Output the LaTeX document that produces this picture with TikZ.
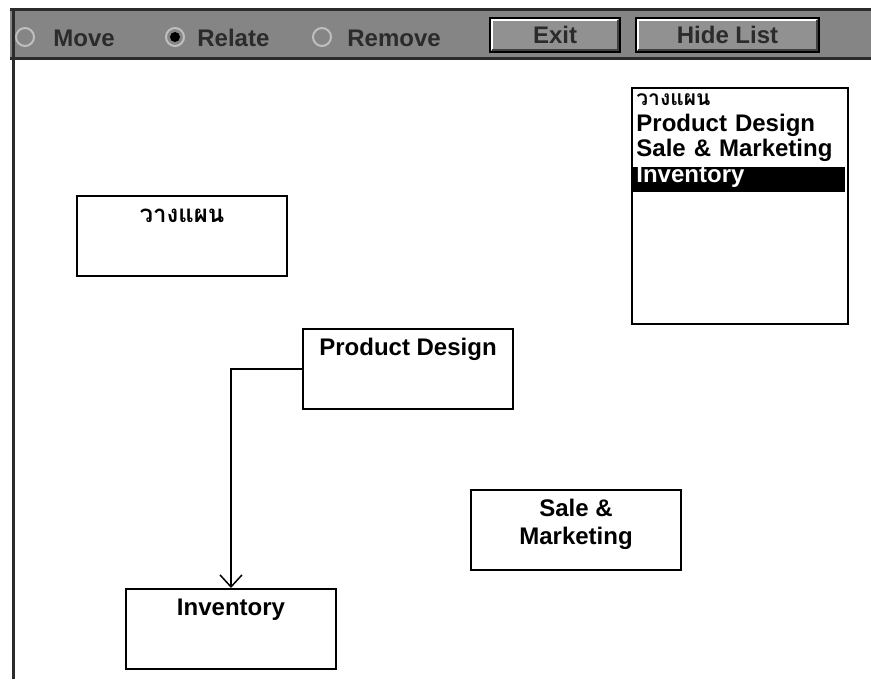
\documentclass[tikz,border=0pt]{standalone}
\usepackage{fontspec}
\setmainfont{Liberation Sans}
\newfontfamily\thaifont[Script=Thai]{Loma}
\usepackage{xcolor}
\usepackage{tikz}
\usetikzlibrary{arrows.meta,positioning}
\definecolor{barfill}{HTML}{858585}
\definecolor{barink}{HTML}{2B2B2B}

\begin{document}
\begin{tikzpicture}[
        x=0.5pt, y=-0.5pt,
        node distance=0pt,
        entity/.style={
            draw,
            line width=1pt,
            inner sep=0pt,
            anchor=north,
            align=center,
            minimum width=105pt,
            text height=13pt,
            text depth=27pt,
            font=\fontsize{12}{14}\selectfont\bfseries
        },
        listitem/.style={
            inner xsep=2.5pt,
            inner ysep=0pt,
            anchor=north west,
            text width=102pt,
            align=left,
            text height=8pt,
            text depth=4.5pt,
            font=\fontsize{12}{14}\selectfont\bfseries
        },
        radio/.style={circle, draw=black!25, line width=1pt, fill=barfill, minimum size=9pt, inner sep=0pt},
        radiotext/.style={anchor=west, text=barink, font=\fontsize{12}{14}\selectfont\bfseries, inner sep=0pt},
        button/.style={draw=black, line width=1pt, fill=barfill!90!white, minimum height=17pt, text=barink, font=\fontsize{12}{14}\selectfont\bfseries},
        arrow/.style={-{Straight Barb[length=6pt, width=11pt]}, line width=0.75pt}
    ]
        \useasboundingbox (0,0) rectangle (871,679);
        \fill[white] (0,0) rectangle (871,679);

        % toolbar and frame
        \fill[barfill] (10,9) rectangle (871,60);
        \draw[barink, line width=1.5pt] (10,10) -- (871,10);
        \draw[barink, line width=1.5pt] (10,59) -- (871,59);
        \draw[barink, line width=1.5pt] (13,9) -- (13,679);

        \node[radio] (move) at (25,37) {};
        \node[radiotext] (movetext) at (53,38) {Move};
        \node[radio] (relate) at (175,37) {};
        \fill[black] (relate) circle (5);
        \node[radiotext] (relatetext) at (197,38) {Relate};
        \node[radio] (remove) at (322,37) {};
        \node[radiotext] (removetext) at (347,38) {Remove};

        \node[button, minimum width=65pt] (exit) at (555,35) {Exit};
        \node[button, minimum width=91.5pt] (hide) at (727.5,35) {Hide List};
        \foreach \b in {exit,hide} {
            \draw[white, line width=1.2pt] ([xshift=1.5pt,yshift=1.5pt]\b.south west) |- ([xshift=-1.5pt,yshift=-1.5pt]\b.north east);
            \draw[black!75, line width=1.2pt] ([xshift=1.5pt,yshift=1.5pt]\b.south west) -| ([xshift=-1.5pt,yshift=-1.5pt]\b.north east);
        }

        % entity boxes
        \node[entity] (plan) at (182,195) {\thaifont วางแผน};
        \node[entity] (design) at (408,328) {Product Design};
        \node[entity, text height=27pt, text depth=13pt] (sales) at (576,489) {Sale \&\\Marketing};
        \node[entity] (inventory) at (231,588) {Inventory};

        \draw[arrow] (design.west) -| (inventory.north);

        % list
        \node[draw, line width=1pt, anchor=north west, minimum width=108pt, minimum height=118pt, inner sep=0pt] (list) at (631,87) {};
        \node[listitem] (item1) at ([yshift=-1pt]list.north west) {\thaifont\fontsize{10.5}{12}\selectfont วางแผน};
        \node[listitem, below=of item1] (item2) {Product Design};
        \node[listitem, below=of item2] (item3) {Sale \& Marketing};
        \node[listitem, below=of item3, fill=black, text=white] (item4) {Inventory};
    \end{tikzpicture}
\end{document}
